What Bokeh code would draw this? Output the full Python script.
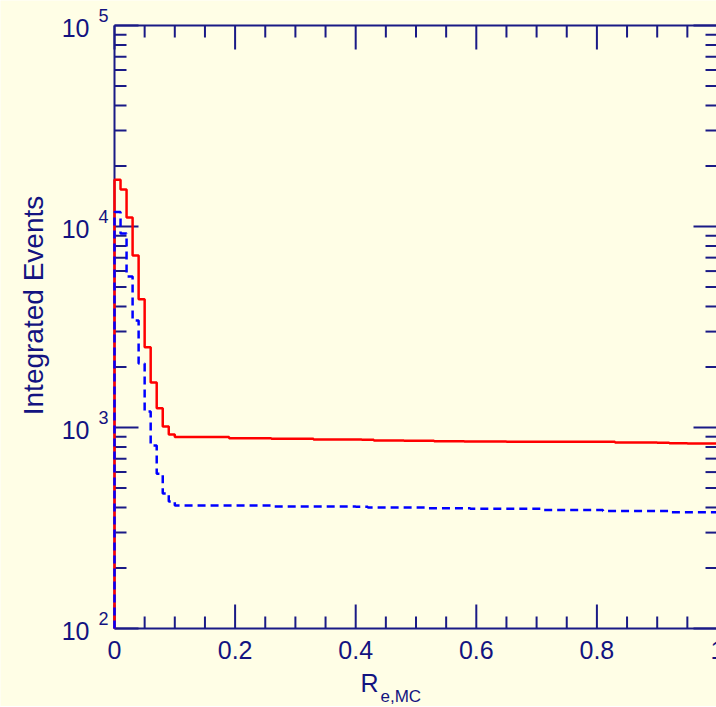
import math
from bokeh.plotting import figure
from bokeh.models import Range1d, Label
from bokeh.embed import file_html
from bokeh.resources import INLINE

# ---- data ----
red_edges = [0.00, 0.01, 0.02, 0.03, 0.04, 0.05, 0.06, 0.07, 0.08, 0.09, 0.10,
             0.19, 0.26, 0.33, 0.41, 0.43, 0.48, 0.53, 0.58, 0.65, 0.83, 0.90, 0.92, 0.95, 1.00]
red_values = [17100, 15300, 11100, 7180, 4340, 2510, 1675, 1245, 1012, 923,
              896, 885, 879, 872, 868, 861, 858, 855, 852, 849, 842, 839, 836, 832]

blue_edges = [0.00, 0.01, 0.02, 0.03, 0.04, 0.05, 0.06, 0.07, 0.08, 0.09, 0.10,
              0.26, 0.40, 0.42, 0.52, 0.59, 0.71, 0.81, 0.92, 1.00]
blue_values = [11800, 9230, 5640, 3410, 2080, 1200, 813, 589, 470, 429,
               409, 405, 403, 400, 397, 394, 389, 384, 379]

x_lim = (0.0, 1.0)
y_lim = (1e2, 1e5)

x_major = [0.0, 0.2, 0.4, 0.6, 0.8, 1.0]
x_major_labels = ["0", "0.2", "0.4", "0.6", "0.8", "1"]
x_minor = [0.05 * i for i in range(21)]
y_exponents = [2, 3, 4, 5]
y_major = [10.0 ** e for e in y_exponents]
y_minor = [m * 10.0 ** e for e in y_exponents[:-1] for m in range(2, 10)]

x_title = "R"
x_title_sub = "e,MC"
y_title = "Integrated Events"

NAVY = "#1a1a86"
TEXT = "#131380"
BG = "#fffee6"
FONT = "Liberation Sans"

# ---- layout (pixels) ----
W, H = 716, 706
X0_PX = 114            # screen x of x=0
PX_PER_X = 603         # pixels per unit of x
YTOP_PX = 25           # screen y (from top) of y=1e5
PX_PER_DEC = 201       # pixels per decade
MAJ, MIN = 24, 12      # tick lengths, px


def step_xy(edges, values, base):
    xs = [edges[0]]
    ys = [base]
    for i, v in enumerate(values):
        xs += [edges[i], edges[i + 1]]
        ys += [v, v]
    return xs, ys


top_log = math.log10(y_lim[1])
p = figure(width=W, height=H,
           x_range=Range1d(-X0_PX / PX_PER_X, (W - X0_PX) / PX_PER_X),
           y_range=Range1d(10 ** (top_log - (H - YTOP_PX) / PX_PER_DEC),
                           10 ** (top_log + YTOP_PX / PX_PER_DEC)),
           y_axis_type="log", x_axis_location=None, y_axis_location=None,
           output_backend="svg", toolbar_location=None,
           min_border=0)
p.background_fill_color = BG
p.border_fill_color = BG
p.outline_line_color = None
p.xgrid.visible = False
p.ygrid.visible = False

# ---- frame of the plot area ----
p.multi_line(xs=[[x_lim[0], x_lim[1]], [x_lim[0], x_lim[1]], [x_lim[0], x_lim[0]], [x_lim[1], x_lim[1]]],
             ys=[[y_lim[0], y_lim[0]], [y_lim[1], y_lim[1]], [y_lim[0], y_lim[1]], [y_lim[0], y_lim[1]]],
             line_color=NAVY, line_width=2)

# ---- ticks (inward, on all four sides) ----
fy_maj = 10 ** (MAJ / PX_PER_DEC)
fy_min = 10 ** (MIN / PX_PER_DEC)
dx_maj = MAJ / PX_PER_X
dx_min = MIN / PX_PER_X

xm = [t for t in x_minor if all(abs(t - M) > 1e-9 for M in x_major)]
seg_x0, seg_x1, seg_y0, seg_y1 = [], [], [], []
for t, f in [(t, fy_maj) for t in x_major] + [(t, fy_min) for t in xm]:
    seg_x0 += [t, t]
    seg_x1 += [t, t]
    seg_y0 += [y_lim[0], y_lim[1]]
    seg_y1 += [y_lim[0] * f, y_lim[1] / f]
for v, d in [(v, dx_maj) for v in y_major] + [(v, dx_min) for v in y_minor]:
    seg_x0 += [x_lim[0], x_lim[1]]
    seg_x1 += [x_lim[0] + d, x_lim[1] - d]
    seg_y0 += [v, v]
    seg_y1 += [v, v]
p.segment(x0=seg_x0, y0=seg_y0, x1=seg_x1, y1=seg_y1, line_color=NAVY, line_width=2)

# ---- the two curves ----
rx, ry = step_xy(red_edges, red_values, y_lim[0])
bx, by = step_xy(blue_edges, blue_values, y_lim[0])
p.line(rx, ry, line_color="#ff0000", line_width=2.5)
p.line(bx, by, line_color="#0000ff", line_width=2.5, line_dash="8 5")

# ---- x tick labels ----
for t, s in zip(x_major, x_major_labels):
    p.add_layout(Label(x=t, y=H - 649, y_units="screen", text=s,
                       text_align="center", text_baseline="middle",
                       text_font=FONT, text_font_size="25px", text_color=TEXT))

# ---- y tick labels: 10 with superscript exponent ----
for e, val in zip(y_exponents, y_major):
    p.add_layout(Label(x=X0_PX - 25, x_units="screen", y=val, text="10",
                       text_align="right", text_baseline="middle", y_offset=-2,
                       text_font=FONT, text_font_size="25px", text_color=TEXT))
    p.add_layout(Label(x=X0_PX - 16, x_units="screen", y=val, text=str(e),
                       text_align="left", text_baseline="middle", y_offset=10.5,
                       text_font=FONT, text_font_size="18px", text_color=TEXT))

# ---- axis titles ----
p.add_layout(Label(x=33, y=H - 305, x_units="screen", y_units="screen",
                   text=y_title, angle=math.pi / 2,
                   text_align="center", text_baseline="middle",
                   text_font=FONT, text_font_size="28px", text_color=TEXT))
p.add_layout(Label(x=378, y=H - 682, x_units="screen", y_units="screen",
                   text=x_title, text_align="right", text_baseline="middle",
                   text_font=FONT, text_font_size="25px", text_color=TEXT))
p.add_layout(Label(x=380, y=H - 696, x_units="screen", y_units="screen",
                   text=x_title_sub, text_align="left", text_baseline="middle",
                   text_font=FONT, text_font_size="17px", text_color=TEXT))

open("out.html", "w").write(file_html(p, INLINE))
